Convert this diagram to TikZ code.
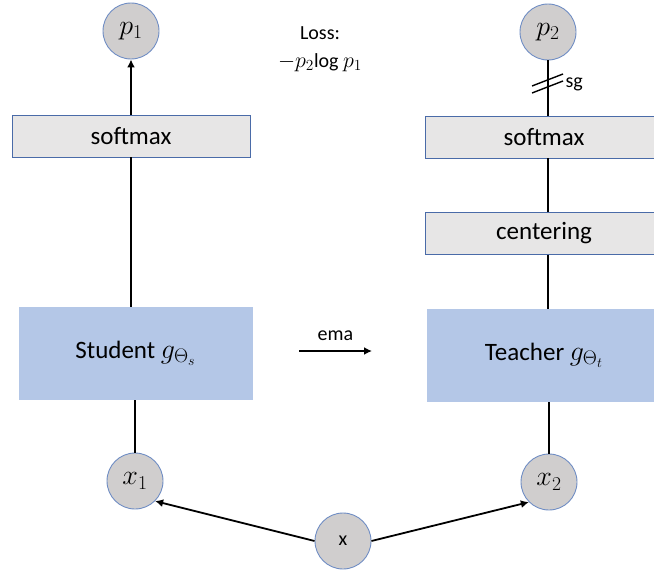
\RequirePackage{fix-cm}
\documentclass[tikz,border=0pt]{standalone}
\usepackage{fontspec}
\setmainfont{Carlito}
\usetikzlibrary{arrows.meta}
\definecolor{vargray}{HTML}{D0CECE}
\definecolor{varline}{HTML}{6F8DC4}
\definecolor{opgray}{HTML}{E7E6E6}
\definecolor{opline}{HTML}{4A6BA8}
\definecolor{netblue}{HTML}{B4C7E7}
\newcommand{\bigmath}[1]{{\fontsize{28}{34}\selectfont$#1$}}
\begin{document}
\begin{tikzpicture}[x=1pt,y=-1pt,
        var/.style={shape=circle,draw=varline,line width=0.9pt,fill=vargray,minimum size=56pt,inner sep=0pt,font=\fontsize{20}{24}\selectfont},
        op/.style={shape=rectangle,draw=opline,line width=0.6pt,fill=opgray,minimum width=238pt,minimum height=42pt,inner sep=0pt,font=\fontsize{25}{30}\selectfont},
        net/.style={shape=rectangle,fill=netblue,minimum width=234pt,minimum height=93pt,inner sep=0pt,font=\fontsize{25}{30}\selectfont},
        small/.style={font=\fontsize{20}{28}\selectfont},
        conn/.style={line width=1.8pt},
        arr/.style={conn,-{Latex[length=8pt,width=8pt]}}]
    \clip (0,0) rectangle (654,570);
        \node[var] (p1) at (131,31) {\bigmath{p_1}};
        \node[var] (p2) at (548,32) {\bigmath{p_2}};
        \node[op] (soft1) at (131,136) {softmax};
        \node[op] (soft2) at (544,137) {softmax};
        \node[op] (center) at (544,233.5) {centering};
        \node[net] (student) at (135.5,353.5) {Student \bigmath{g_{\Theta_s}}};
        \node[net] (teacher) at (544,355.5) {Teacher \bigmath{g_{\Theta_t}}};
        \node[var] (x1) at (135,481) {\bigmath{x_1}};
        \node[var] (x2) at (549,482) {\bigmath{x_2}};
        \node[var] (x) at (343,541) {x};
        \node[small,align=center] (loss) at (320,49) {Loss:\\{\fontsize{22}{28}\selectfont$-p_2$}log {\fontsize{22}{28}\selectfont$p_1$}};
        \coordinate (emaL) at (299,351);
        \coordinate (emaR) at (372,351);
        \coordinate (sg) at (548,84);

        \draw[arr] (soft1.north) -- (p1.south);
        \draw[conn] (soft1.south) -- (soft1.south |- student.north);
        \draw[conn] (x1.north) -- (x1.north |- student.south);
        \draw[conn] (p2.south) -- (p2.south |- soft2.north);
        \draw[conn] (p2.south |- soft2.south) -- (p2.south |- center.north);
        \draw[conn] (p2.south |- center.south) -- (p2.south |- teacher.north);
        \draw[conn] (x2.north) -- (x2.north |- teacher.south);
        \draw[arr] (x.west) -- (x1.south east);
        \draw[arr] (x.east) -- (x2.south west);
        \draw[arr] (emaL) -- node[above=6pt,small] {ema} (emaR);
        \draw[line width=1.4pt] ([shift={(-16,2)}]sg) -- ([shift={(15,-10)}]sg)
            ([shift={(-16,9)}]sg) -- ([shift={(15,-3)}]sg);
        \node[small,right=14pt] (sglabel) at (sg) {sg};
    \end{tikzpicture}
\end{document}
